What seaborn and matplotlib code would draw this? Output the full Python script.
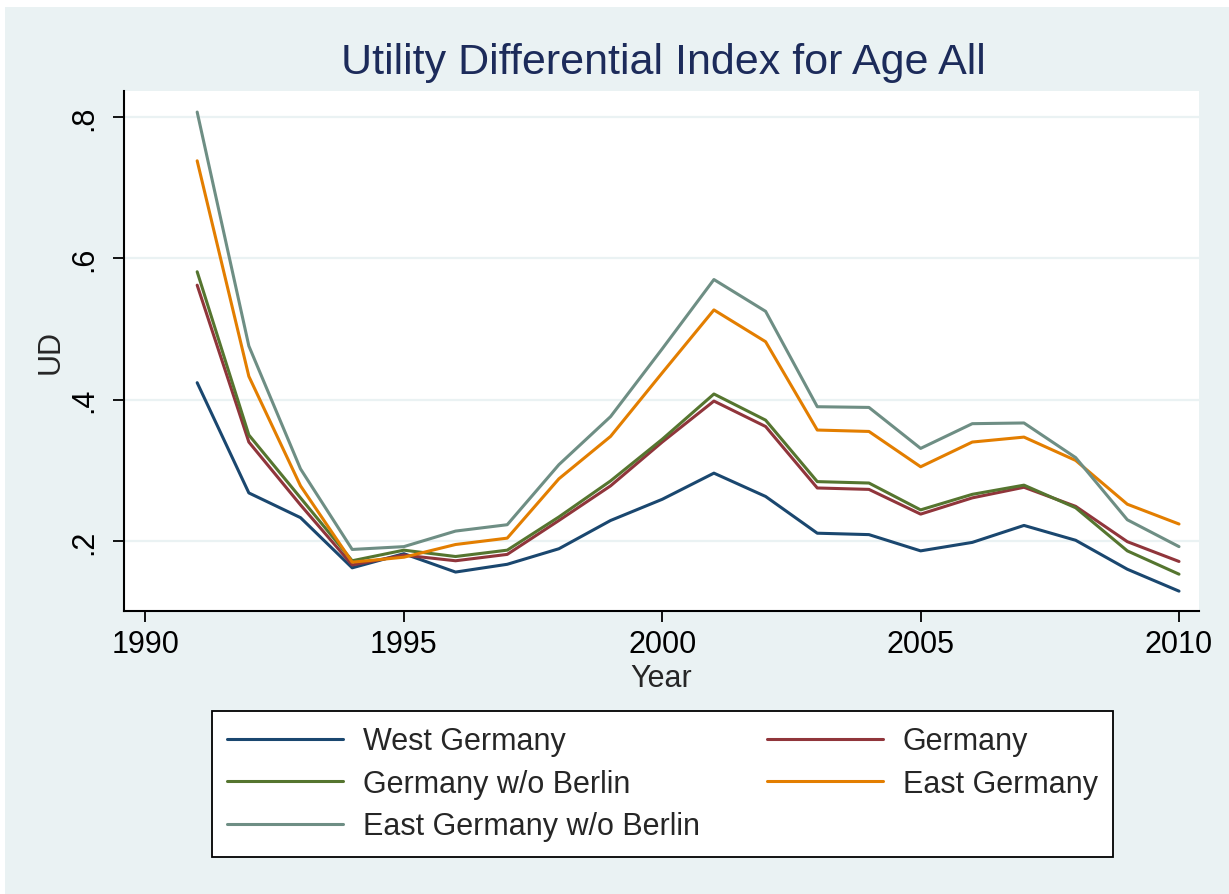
import numpy as np
import pandas as pd
import matplotlib
matplotlib.use("Agg")
import matplotlib.pyplot as plt
from matplotlib.patches import Rectangle
import seaborn as sns

# ---------------- data ----------------
years = list(range(1991, 2011))

west_germany = [0.424, 0.268, 0.233, 0.162, 0.182, 0.156, 0.167, 0.189, 0.229, 0.259,
                0.296, 0.263, 0.211, 0.209, 0.186, 0.198, 0.222, 0.201, 0.160, 0.129]
germany = [0.562, 0.340, 0.251, 0.166, 0.180, 0.172, 0.181, 0.229, 0.278, 0.340,
           0.398, 0.362, 0.275, 0.273, 0.238, 0.261, 0.276, 0.249, 0.199, 0.171]
germany_wo_berlin = [0.581, 0.350, 0.261, 0.172, 0.187, 0.178, 0.187, 0.234, 0.285, 0.344,
                     0.408, 0.371, 0.284, 0.282, 0.244, 0.266, 0.279, 0.247, 0.186, 0.153]
east_germany = [0.738, 0.433, 0.278, 0.170, 0.177, 0.195, 0.204, 0.288, 0.348, 0.438,
                0.527, 0.482, 0.357, 0.355, 0.305, 0.340, 0.347, 0.314, 0.252, 0.224]
east_germany_wo_berlin = [0.807, 0.476, 0.302, 0.188, 0.192, 0.214, 0.223, 0.308, 0.376, 0.472,
                          0.570, 0.525, 0.390, 0.389, 0.331, 0.366, 0.367, 0.318, 0.230, 0.192]

series_names = ["West Germany", "Germany", "Germany w/o Berlin",
                "East Germany", "East Germany w/o Berlin"]
series_values = [west_germany, germany, germany_wo_berlin,
                 east_germany, east_germany_wo_berlin]
series_colors = ["#1a476f", "#90353b", "#55752f", "#e37e00", "#6e8e84"]

y_ticks = [0.2, 0.4, 0.6, 0.8]
y_tick_labels = [".2", ".4", ".6", ".8"]
x_ticks = [1990, 1995, 2000, 2005, 2010]

# long format for seaborn
df = pd.concat([pd.DataFrame({"Year": years, "UD": vals, "Series": name})
                for name, vals in zip(series_names, series_values)],
               ignore_index=True)

# ---------------- style ----------------
sns.set_style("ticks")
plt.rcParams["font.family"] = ["Liberation Sans", "DejaVu Sans"]

W, H = 1229, 895
fig = plt.figure(figsize=(W / 100, H / 100), dpi=100)
fig.patch.set_facecolor("white")
bg = "#eaf2f3"
fig.add_artist(Rectangle((5 / W, 0), 1 - 5 / W, 1 - 8 / H, transform=fig.transFigure,
                         facecolor=bg, edgecolor="none", zorder=-10))

ax = fig.add_axes([124 / W, 1 - 612 / H, (1199 - 124) / W, (612 - 92) / H])
ax.set_facecolor("white")

sns.lineplot(data=df, x="Year", y="UD", hue="Series", hue_order=series_names,
             palette=series_colors, linewidth=2.2, ax=ax)

ax.set_xlim(1989.584, 2010.387)
ax.set_ylim(0.1009, 0.8368)
ax.set_xticks(x_ticks)
ax.set_yticks(y_ticks)
ax.set_yticklabels(y_tick_labels, rotation=90, va="center")
for g in y_ticks:
    ax.axhline(g, color=bg, lw=1.6, zorder=0)

sns.despine(ax=ax)
for side in ["left", "bottom"]:
    ax.spines[side].set_linewidth(1.5)
    ax.spines[side].set_color("black")
ax.tick_params(axis="both", length=8, width=1.3, color="black", labelsize=22,
               labelcolor="black")
ax.tick_params(axis="x", pad=5)
ax.tick_params(axis="y", pad=10)

ax.set_xlabel("Year", fontsize=22)
ax.set_ylabel("UD", fontsize=22, va="center")
ax.xaxis.set_label_coords(0.5, -0.1)
ax.yaxis.set_label_coords(-0.068, 0.5)

fig.text(663 / W, 1 - 63 / H, "Utility Differential Index for Age All",
         fontsize=31, color="#1c2b5a", ha="center", va="center")

# ---------------- legend ----------------
handles, labels = ax.get_legend_handles_labels()
ax.get_legend().remove()
lookup = dict(zip(labels, handles))
order = ["West Germany", "Germany w/o Berlin", "East Germany w/o Berlin",
         "Germany", "East Germany"]
leg = fig.legend([lookup[k] for k in order], order, ncol=2, loc="upper left",
                 bbox_to_anchor=(212 / W, 1 - 857 / H, (1113 - 212) / W, (857 - 712) / H),
                 mode="expand", borderaxespad=0, fontsize=22, frameon=True,
                 fancybox=False, edgecolor="black", framealpha=1.0,
                 handlelength=3.8, handletextpad=0.65, labelspacing=0.41,
                 borderpad=0.5)
leg.get_frame().set_linewidth(1.3)
leg.get_frame().set_facecolor("white")
for line in leg.get_lines():
    line.set_linewidth(2.2)

fig.savefig("out.png", dpi=100, facecolor=fig.get_facecolor())
